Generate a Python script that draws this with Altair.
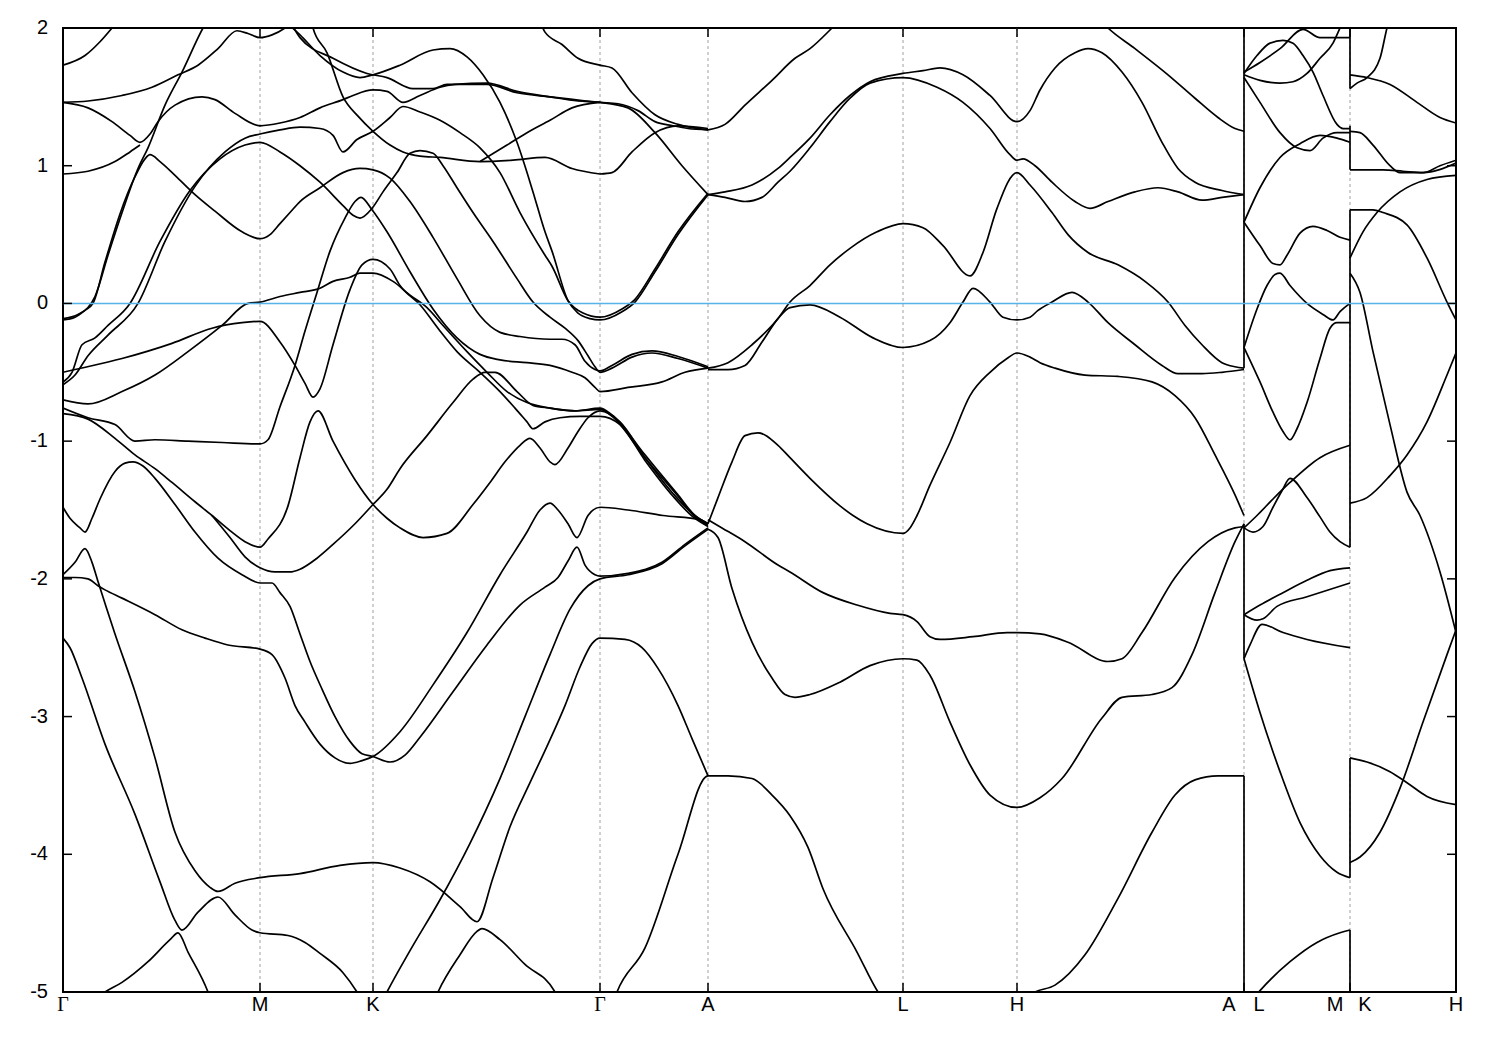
import altair as alt
import pandas as pd

W, H = 1393, 964

# path positions of the high-symmetry points
SYM_K = [0, 197, 310, 537, 645, 840, 954, 1181, 1287, 1393]
GRID_K = [197, 310, 537, 645, 840, 954, 1181, 1287]
Y_TICKS = [-5, -4, -3, -2, -1, 0, 1, 2]
Y_LABELS = ["-5", "-4", "-3", "-2", "-1", "0", "1", "2"]

CENTER_LABEL_K = [197, 310, 645, 840, 954, 1393]
CENTER_LABELS = ["M", "K", "A", "L", "H", "H"]
GAMMA_K = [0, 537]
LEFT_LABEL_K = [1181, 1287]
LEFT_LABELS = ["A", "M"]
RIGHT_LABEL_K = [1181, 1287]
RIGHT_LABELS = ["L", "K"]

# discontinuities of the path (A|L and M|K): vertical joins of the bands
JUMP_K = [1181, 1181, 1181, 1287, 1287, 1287, 1287, 1287]
JUMP_TOP = [2.05, -1.60, -3.43, 2.05, 1.29, 0.68, -3.30, -4.55]
JUMP_BOT = [-0.47, -2.58, -5.05, 1.56, 0.97, -1.77, -4.17, -5.05]

# ---- bands: (k, E in eV) ----
B01 = [(0,1.73),(22,1.80),(37,1.90),(49,2.00),(62,2.12)]
B02 = [(0,1.46),(25,1.47),(59,1.51),(89,1.57),(115,1.66),(135,1.73),(155,1.85),(174,1.98),(185,1.96),(197,1.93),(209,1.95),(222,2.00),(232,2.06)]
B03 = [(0,1.46),(25,1.42),(49,1.32),(67,1.22),(77,1.17),(87,1.23),(95,1.32),(112,1.44),(139,1.50),(152,1.48),(172,1.38),(197,1.29),(217,1.31),(237,1.35),(257,1.42),(280,1.48),(290,1.51),(310,1.55),(324,1.54),(340,1.46),(357,1.51),(377,1.57),(392,1.59),(424,1.60),(454,1.54),(487,1.50),(515,1.47),(537,1.46),(565,1.42),(592,1.24),(619,1.00),(645,0.79)]
B04 = [(0,0.94),(25,0.96),(52,1.03),(67,1.10),(77,1.15)]
B05 = [(0,-0.12),(12,-0.10),(22,-0.05),(30,0.00),(42,0.30),(57,0.65),(72,0.92),(82,1.05),(87,1.08),(97,1.03),(112,0.93),(132,0.79),(152,0.67),(179,0.52),(197,0.47),(207,0.50),(217,0.58),(227,0.66),(237,0.74),(257,0.84),(280,0.95),(297,0.98),(310,0.97),(327,0.91),(347,0.74),(370,0.48),(394,0.18),(417,-0.09),(437,-0.21),(457,-0.24),(487,-0.26),(499,-0.26),(512,-0.30),(522,-0.42),(532,-0.48),(537,-0.49),(549,-0.45),(569,-0.37),(589,-0.345),(615,-0.385),(645,-0.46)]
B06 = [(0,-0.11),(15,-0.08),(25,-0.03),(32,0.05),(45,0.35),(60,0.68),(75,0.98),(85,1.13),(102,1.44),(119,1.68),(140,2.00),(150,2.12)]
B07 = [(0,-0.57),(9,-0.50),(19,-0.30),(32,-0.25),(45,-0.16),(67,0.00),(97,0.45),(127,0.82),(157,1.05),(182,1.15),(197,1.17),(217,1.10),(237,1.00),(257,0.88),(280,0.71),(290,0.64),(297,0.62),(309,0.69),(320,0.81),(334,0.95),(347,1.09),(357,1.11),(370,1.09),(380,1.00),(394,0.84),(410,0.66),(430,0.45),(454,0.18),(470,0.01),(487,-0.10),(502,-0.18),(515,-0.27),(525,-0.38),(532,-0.46),(537,-0.50),(549,-0.47),(569,-0.39),(589,-0.36),(615,-0.40),(645,-0.47)]
B08 = [(0,-0.59),(12,-0.52),(25,-0.38),(45,-0.23),(75,0.00),(102,0.45),(132,0.85),(162,1.10),(182,1.20),(197,1.23),(217,1.26),(237,1.28),(257,1.27),(270,1.22),(280,1.10),(294,1.19),(310,1.25),(327,1.35),(340,1.43),(357,1.39),(377,1.33),(397,1.24),(417,1.13),(437,0.95),(457,0.66),(482,0.35),(489,0.27),(505,0.02),(520,-0.07),(537,-0.10),(559,-0.04),(572,0.03),(592,0.25),(615,0.52),(645,0.80)]
B09 = [(222,2.05),(237,1.95),(257,1.80),(280,1.68),(297,1.64),(310,1.66),(337,1.73),(370,1.84),(387,1.85),(404,1.79),(420,1.66),(437,1.46),(454,1.17),(470,0.81),(482,0.52),(489,0.38),(505,0.02),(515,-0.07),(527,-0.11),(537,-0.12),(559,-0.06),(572,0.01),(592,0.23),(615,0.50),(645,0.79)]
B10 = [(227,2.05),(237,1.93),(270,1.78),(304,1.67),(324,1.64),(350,1.56),(370,1.56),(384,1.59),(397,1.59),(424,1.59),(454,1.53),(487,1.50),(537,1.46),(555,1.45),(575,1.40),(592,1.32),(610,1.29),(625,1.27),(645,1.26)]
B11 = [(247,2.10),(250,2.00),(264,1.82),(280,1.50),(295,1.36),(310,1.25),(327,1.15),(340,1.10),(357,1.07),(377,1.06),(417,1.03),(450,1.04),(482,1.06),(509,0.98),(537,0.94)]
B11B = [(417,1.03),(444,1.15),(464,1.24),(487,1.33),(509,1.42),(537,1.46)]
B12 = [(477,2.05),(482,1.97),(499,1.88),(515,1.78),(537,1.73),(549,1.71),(569,1.53),(592,1.37),(615,1.30),(645,1.26)]
B13 = [(537,0.94),(549,0.95),(569,1.10),(592,1.24),(615,1.29),(645,1.27)]
B14 = [(0,-0.50),(12,-0.48),(59,-0.40),(109,-0.29),(149,-0.18),(179,-0.14),(197,-0.13),(217,-0.28),(232,-0.45),(242,-0.58),(250,-0.68),(257,-0.62),(270,-0.30),(287,0.10),(299,0.28),(310,0.32),(327,0.25),(337,0.13),(357,-0.01),(377,-0.20),(394,-0.35),(417,-0.50),(437,-0.64),(452,-0.76),(464,-0.86),(470,-0.91),(482,-0.86),(497,-0.83),(517,-0.82),(537,-0.82),(557,-0.88),(582,-1.14),(610,-1.40),(630,-1.55),(645,-1.62)]
B15 = [(0,-0.70),(25,-0.73),(59,-0.64),(92,-0.52),(125,-0.35),(159,-0.16),(185,0.00),(197,0.01),(217,0.05),(237,0.08),(257,0.11),(270,0.16),(287,0.19),(297,0.22),(310,0.22),(330,0.16),(347,0.06),(364,-0.03),(380,-0.16),(404,-0.35),(424,-0.50),(444,-0.64),(464,-0.72),(487,-0.76),(512,-0.78),(537,-0.76),(549,-0.81),(582,-1.10),(615,-1.39),(632,-1.54),(645,-1.60)]
B16 = [(0,-0.76),(25,-0.83),(52,-0.88),(72,-1.00),(92,-0.99),(125,-1.00),(159,-1.01),(197,-1.02),(205,-0.99),(217,-0.75),(232,-0.45),(242,-0.20),(254,0.08),(267,0.38),(282,0.62),(292,0.74),(298,0.77),(309,0.68),(324,0.52),(347,0.23),(370,-0.04),(394,-0.25),(417,-0.37),(437,-0.41),(464,-0.43),(487,-0.45),(509,-0.50),(522,-0.54),(532,-0.61),(537,-0.64),(565,-0.61),(599,-0.57),(622,-0.50),(645,-0.47)]
B17 = [(0,-0.80),(25,-0.84),(52,-0.98),(72,-1.10),(92,-1.20),(109,-1.30),(132,-1.44),(149,-1.54),(167,-1.65),(182,-1.73),(197,-1.77),(205,-1.71),(225,-1.47),(237,-1.12),(247,-0.86),(255,-0.78),(270,-1.00),(292,-1.28),(310,-1.46),(324,-1.56),(337,-1.63),(360,-1.70),(384,-1.67),(410,-1.46),(427,-1.30),(442,-1.15),(457,-1.03),(467,-0.98),(477,-1.05),(487,-1.15),(492,-1.17),(505,-1.05),(515,-0.93),(525,-0.83),(537,-0.78),(557,-0.86),(582,-1.12),(610,-1.38),(630,-1.53),(645,-1.60)]
B18 = [(0,-1.48),(7,-1.56),(17,-1.63),(22,-1.66),(29,-1.56),(37,-1.42),(52,-1.22),(62,-1.16),(70,-1.15),(80,-1.18),(92,-1.27),(112,-1.46),(132,-1.66),(155,-1.85),(179,-1.97),(197,-2.03),(209,-2.03),(217,-2.10),(227,-2.20),(237,-2.40),(247,-2.60),(259,-2.80),(272,-3.00),(287,-3.18),(299,-3.27),(310,-3.29),(327,-3.33),(342,-3.28),(357,-3.15),(390,-2.82),(424,-2.48),(457,-2.19),(482,-2.06),(495,-1.99),(505,-1.87),(514,-1.77),(522,-1.90),(532,-1.97),(537,-1.98),(565,-1.96),(599,-1.88),(622,-1.75),(645,-1.63)]
B19 = [(149,-1.54),(167,-1.70),(182,-1.84),(197,-1.92),(212,-1.95),(227,-1.95),(237,-1.93),(254,-1.85),(270,-1.75),(292,-1.60),(310,-1.46),(324,-1.35),(337,-1.20),(364,-0.96),(390,-0.72),(410,-0.55),(422,-0.50),(432,-0.50),(454,-0.64),(470,-0.74),(487,-0.76),(512,-0.78),(537,-0.77),(549,-0.82),(582,-1.12),(615,-1.40),(632,-1.55),(645,-1.61)]
B20 = [(0,-1.99),(12,-1.99),(25,-2.00),(35,-2.05),(42,-2.08),(59,-2.14),(92,-2.26),(119,-2.37),(142,-2.43),(165,-2.48),(197,-2.51),(209,-2.55),(222,-2.72),(232,-2.92),(242,-3.04),(257,-3.20),(272,-3.30),(287,-3.34),(299,-3.32),(310,-3.29),(337,-3.11),(370,-2.77),(404,-2.39),(437,-1.97),(464,-1.66),(477,-1.50),(487,-1.45),(495,-1.50),(505,-1.60),(514,-1.70),(525,-1.54),(537,-1.48),(565,-1.50),(600,-1.54),(637,-1.57),(645,-1.60)]
B21 = [(0,-1.97),(12,-1.88),(22,-1.78),(29,-1.88),(35,-2.02),(52,-2.40),(72,-2.82),(92,-3.30),(112,-3.84),(132,-4.12),(147,-4.24),(155,-4.27),(172,-4.21),(197,-4.17),(237,-4.14),(277,-4.08),(310,-4.06),(337,-4.10),(367,-4.20),(397,-4.38),(414,-4.49),(430,-4.17),(447,-3.80),(467,-3.48),(485,-3.20),(502,-2.92),(517,-2.64),(529,-2.47),(537,-2.43),(562,-2.44),(579,-2.50),(595,-2.65),(615,-2.92),(629,-3.16),(645,-3.43)]
B22 = [(0,-2.43),(7,-2.50),(19,-2.72),(42,-3.20),(72,-3.71),(97,-4.20),(112,-4.48),(119,-4.55),(135,-4.42),(155,-4.31),(172,-4.44),(189,-4.55),(197,-4.57),(225,-4.59),(242,-4.64),(257,-4.72),(280,-4.86),(294,-5.00),(302,-5.10)]
B23 = [(22,-5.10),(42,-5.00),(59,-4.93),(85,-4.78),(107,-4.62),(115,-4.57),(125,-4.71),(145,-5.00),(150,-5.10)]
B24 = [(317,-5.10),(324,-5.00),(347,-4.70),(377,-4.33),(407,-3.92),(437,-3.45),(462,-3.00),(487,-2.55),(507,-2.22),(525,-2.05),(537,-2.00),(565,-1.97),(599,-1.89),(622,-1.76),(645,-1.64)]
B25 = [(369,-5.10),(375,-5.00),(397,-4.73),(414,-4.56),(419,-4.54),(437,-4.62),(462,-4.80),(492,-5.00),(497,-5.08)]
B26 = [(549,-5.10),(554,-5.00),(582,-4.68),(615,-4.00),(645,-3.43),(665,-3.43),(689,-3.45),(709,-3.57),(727,-3.72),(745,-3.95),(760,-4.25),(794,-4.71),(815,-5.00),(825,-5.10)]
B27 = [(645,1.26),(662,1.30),(682,1.44),(709,1.62),(732,1.78),(747,1.85),(769,2.00),(780,2.08)]
B28 = [(645,0.79),(662,0.81),(689,0.86),(715,0.98),(727,1.06),(747,1.20),(767,1.37),(787,1.51),(807,1.61),(840,1.67),(860,1.69),(877,1.71),(900,1.66),(927,1.51),(954,1.32),(967,1.40),(977,1.55),(992,1.71),(1012,1.82),(1025,1.85),(1039,1.82),(1059,1.68),(1079,1.46),(1099,1.17),(1115,0.98),(1132,0.88),(1159,0.82),(1181,0.79)]
B29 = [(645,0.79),(662,0.77),(682,0.74),(699,0.77),(715,0.88),(727,0.96),(747,1.13),(767,1.32),(787,1.49),(807,1.60),(840,1.64),(874,1.57),(900,1.46),(927,1.27),(947,1.08),(954,1.04),(960,1.05),(972,1.00),(989,0.88),(1012,0.74),(1027,0.69),(1045,0.74),(1072,0.81),(1095,0.84),(1115,0.81),(1139,0.75),(1159,0.77),(1181,0.79)]
B30 = [(645,-0.47),(665,-0.43),(689,-0.30),(715,-0.11),(727,0.01),(747,0.13),(767,0.28),(787,0.40),(814,0.52),(840,0.58),(860,0.55),(880,0.42),(907,0.20),(920,0.37),(934,0.69),(954,0.95),(967,0.86),(989,0.66),(1005,0.50),(1025,0.37),(1055,0.28),(1082,0.16),(1105,0.01),(1122,-0.16),(1139,-0.30),(1159,-0.43),(1172,-0.46),(1181,-0.47)]
B31 = [(645,-0.48),(665,-0.48),(682,-0.45),(699,-0.28),(715,-0.11),(727,-0.03),(747,-0.01),(777,-0.10),(810,-0.25),(840,-0.32),(867,-0.27),(887,-0.14),(900,0.01),(910,0.11),(927,0.01),(940,-0.10),(954,-0.12),(967,-0.10),(975,-0.05),(989,0.01),(1009,0.08),(1025,0.01),(1045,-0.14),(1072,-0.30),(1099,-0.45),(1115,-0.51),(1139,-0.51),(1159,-0.50),(1181,-0.48)]
B32 = [(645,-1.60),(655,-1.41),(669,-1.15),(682,-0.96),(695,-0.94),(715,-1.03),(727,-1.12),(747,-1.27),(777,-1.47),(790,-1.54),(804,-1.60),(840,-1.67),(847,-1.63),(854,-1.54),(867,-1.32),(887,-1.01),(907,-0.67),(927,-0.50),(944,-0.40),(954,-0.36),(967,-0.39),(977,-0.43),(992,-0.47),(1022,-0.52),(1055,-0.53),(1089,-0.57),(1112,-0.67),(1132,-0.83),(1152,-1.10),(1172,-1.39),(1181,-1.54)]
B33 = [(645,-1.57),(659,-1.63),(682,-1.73),(715,-1.90),(727,-1.95),(760,-2.10),(794,-2.19),(827,-2.25),(840,-2.26),(854,-2.31),(867,-2.42),(877,-2.44),(910,-2.42),(944,-2.39),(954,-2.39),(977,-2.40),(1005,-2.46),(1045,-2.60),(1059,-2.58),(1079,-2.39),(1112,-1.99),(1145,-1.73),(1172,-1.63),(1181,-1.62)]
B34 = [(645,-1.64),(655,-1.70),(669,-2.07),(689,-2.46),(709,-2.72),(722,-2.84),(732,-2.86),(747,-2.84),(777,-2.75),(807,-2.63),(840,-2.58),(854,-2.59),(867,-2.70),(887,-3.04),(907,-3.35),(927,-3.57),(954,-3.66),(977,-3.59),(999,-3.45),(1039,-3.01),(1059,-2.86),(1089,-2.84),(1109,-2.79),(1129,-2.55),(1152,-2.10),(1172,-1.73),(1181,-1.60)]
B35 = [(955,-5.08),(972,-5.00),(992,-4.95),(1022,-4.73),(1055,-4.32),(1089,-3.84),(1112,-3.57),(1132,-3.46),(1155,-3.43),(1181,-3.43)]
B36 = [(1032,2.10),(1045,2.00),(1072,1.85),(1105,1.66),(1132,1.49),(1155,1.35),(1172,1.27),(1181,1.25)]
B40 = [(1181,1.67),(1194,1.80),(1207,1.89),(1220,1.91),(1230,1.89),(1240,1.80),(1250,1.68),(1260,1.51),(1274,1.30),(1280,1.27),(1287,1.27)]
B41 = [(1181,1.68),(1197,1.75),(1217,1.85),(1240,1.99),(1257,1.93),(1274,1.93),(1287,1.93)]
B42 = [(1181,1.66),(1197,1.62),(1217,1.60),(1230,1.61),(1244,1.67),(1257,1.78),(1270,1.89),(1277,2.00),(1283,2.10)]
B43 = [(1181,1.64),(1197,1.46),(1217,1.24),(1234,1.13),(1247,1.11),(1260,1.20),(1274,1.24),(1287,1.24)]
B44 = [(1181,0.59),(1197,0.84),(1217,1.06),(1237,1.16),(1257,1.22),(1274,1.20),(1287,1.17)]
B45 = [(1181,0.59),(1197,0.42),(1210,0.29),(1217,0.28),(1224,0.35),(1237,0.51),(1250,0.56),(1264,0.53),(1277,0.48),(1287,0.46)]
B46 = [(1181,-0.32),(1194,-0.04),(1204,0.13),(1212,0.21),(1217,0.22),(1227,0.13),(1244,0.00),(1260,-0.08),(1270,-0.12),(1277,-0.06),(1287,0.00)]
B47 = [(1181,-0.32),(1197,-0.57),(1210,-0.79),(1220,-0.93),(1227,-0.99),(1234,-0.91),(1244,-0.72),(1257,-0.40),(1267,-0.18),(1274,-0.14),(1287,-0.14)]
B48 = [(1181,-1.63),(1190,-1.66),(1200,-1.62),(1210,-1.48),(1219,-1.36),(1227,-1.27),(1244,-1.41),(1257,-1.55),(1267,-1.66),(1277,-1.73),(1287,-1.77)]
B49 = [(1181,-1.63),(1194,-1.54),(1210,-1.42),(1227,-1.30),(1257,-1.12),(1287,-1.03)]
B50 = [(1181,-2.26),(1194,-2.30),(1200,-2.29),(1214,-2.20),(1244,-2.13),(1287,-2.03)]
B51 = [(1181,-2.26),(1197,-2.19),(1220,-2.10),(1244,-2.01),(1267,-1.94),(1287,-1.92)]
B52 = [(1181,-2.58),(1187,-2.48),(1199,-2.33),(1220,-2.39),(1244,-2.44),(1287,-2.50)]
B53 = [(1181,-2.58),(1197,-2.97),(1217,-3.40),(1237,-3.77),(1257,-4.01),(1274,-4.13),(1287,-4.17)]
B54 = [(1190,-5.05),(1197,-4.99),(1227,-4.78),(1254,-4.64),(1277,-4.57),(1287,-4.55)]
B60 = [(1287,1.56),(1294,1.60),(1304,1.64),(1317,1.78),(1324,2.00),(1328,2.10)]
B61 = [(1287,1.66),(1304,1.64),(1327,1.59),(1354,1.46),(1377,1.35),(1393,1.31)]
B62 = [(1287,1.25),(1297,1.24),(1310,1.15),(1327,1.00),(1337,0.95),(1360,0.95),(1377,1.00),(1393,1.04)]
B63 = [(1287,0.97),(1320,0.97),(1340,0.96),(1360,0.95),(1393,1.02)]
B64 = [(1287,0.68),(1310,0.68),(1320,0.66),(1344,0.57),(1364,0.33),(1384,0.01),(1393,-0.12)]
B65 = [(1287,0.33),(1300,0.52),(1314,0.66),(1337,0.81),(1364,0.90),(1393,0.93)]
B66 = [(1287,0.22),(1297,0.08),(1310,-0.35),(1327,-0.88),(1344,-1.37),(1357,-1.54),(1377,-1.95),(1393,-2.39)]
B67 = [(1287,-1.45),(1304,-1.41),(1327,-1.25),(1344,-1.10),(1364,-0.86),(1384,-0.52),(1393,-0.36)]
B68 = [(1287,-3.30),(1304,-3.33),(1327,-3.40),(1344,-3.48),(1364,-3.58),(1393,-3.64)]
B69 = [(1287,-4.06),(1297,-4.02),(1317,-3.84),(1337,-3.52),(1360,-3.04),(1384,-2.55),(1393,-2.37)]

BANDS = [B01, B02, B03, B04, B05, B06, B07, B08, B09, B10, B11, B11B, B12, B13, B14, B15,
         B16, B17, B18, B19, B20, B21, B22, B23, B24, B25, B26, B27, B28, B29, B30,
         B31, B32, B33, B34, B35, B36, B40, B41, B42, B43, B44, B45, B46, B47, B48,
         B49, B50, B51, B52, B53, B54, B60, B61, B62, B63, B64, B65, B66, B67, B68, B69]

rows = []
for bi, band in enumerate(BANDS):
    for j, (k, e) in enumerate(band):
        rows.append({"band": f"b{bi:02d}", "k": k, "E": e, "i": j})
df = pd.DataFrame(rows)

xs = alt.Scale(domain=[0, 1393], nice=False, zero=False)
ys = alt.Scale(domain=[-5, 2], nice=False, zero=False)
FONT = "Liberation Sans"
FS = 20
LW = 1.7

grid = alt.Chart(pd.DataFrame({"k": GRID_K})).mark_rule(
    color="#a0a0a0", strokeDash=[3, 3], strokeWidth=1
).encode(x=alt.X("k:Q", scale=xs, axis=None))

lines = alt.Chart(df).mark_line(
    color="black", strokeWidth=LW, interpolate="monotone", clip=True
).encode(
    x=alt.X("k:Q", scale=xs, axis=None),
    y=alt.Y("E:Q", scale=ys, axis=None),
    detail="band:N",
    order="i:Q",
)

jumps = alt.Chart(pd.DataFrame({"k": JUMP_K, "top": JUMP_TOP, "bot": JUMP_BOT})).mark_rule(
    color="black", strokeWidth=LW, clip=True
).encode(
    x=alt.X("k:Q", scale=xs, axis=None),
    y=alt.Y("top:Q", scale=ys, axis=None),
    y2="bot:Q",
)

fermi = alt.Chart(pd.DataFrame({"E": [0]})).mark_rule(color="#56B4E9", strokeWidth=1.5).encode(
    y=alt.Y("E:Q", scale=ys, axis=None)
)

ytick_df = pd.DataFrame({"E": Y_TICKS, "t": Y_LABELS})
ytick_l = alt.Chart(ytick_df).mark_rule(color="black", strokeWidth=1.5).encode(
    y=alt.Y("E:Q", scale=ys, axis=None), x=alt.value(0), x2=alt.value(9))
ytick_r = alt.Chart(ytick_df).mark_rule(color="black", strokeWidth=1.5).encode(
    y=alt.Y("E:Q", scale=ys, axis=None), x=alt.value(W - 9), x2=alt.value(W))
ylab = alt.Chart(ytick_df).mark_text(
    font=FONT, fontSize=FS, color="black", align="right", baseline="middle"
).encode(y=alt.Y("E:Q", scale=ys, axis=None), x=alt.value(-15), text="t:N")

xtick_df = pd.DataFrame({"k": SYM_K})
xtick_b = alt.Chart(xtick_df).mark_rule(color="black", strokeWidth=1.5).encode(
    x=alt.X("k:Q", scale=xs, axis=None), y=alt.value(H), y2=alt.value(H - 9))
xtick_t = alt.Chart(xtick_df).mark_rule(color="black", strokeWidth=1.5).encode(
    x=alt.X("k:Q", scale=xs, axis=None), y=alt.value(0), y2=alt.value(9))

def label_layer(ks, texts, font, dx=0):
    return alt.Chart(pd.DataFrame({"k": ks, "t": texts})).mark_text(
        font=font, fontSize=FS, color="black", baseline="top", align="center", dx=dx
    ).encode(x=alt.X("k:Q", scale=xs, axis=None), y=alt.value(H + 3), text="t:N")

lab_c = label_layer(CENTER_LABEL_K, CENTER_LABELS, FONT)
lab_g = label_layer(GAMMA_K, ["Γ", "Γ"], "Liberation Serif")
lab_l = label_layer(LEFT_LABEL_K, LEFT_LABELS, FONT, dx=-15)
lab_r = label_layer(RIGHT_LABEL_K, RIGHT_LABELS, FONT, dx=15)

chart = alt.layer(
    grid, lines, jumps, fermi, ytick_l, ytick_r, ylab, xtick_b, xtick_t, lab_c, lab_g, lab_l, lab_r
).properties(
    width=W, height=H,
    padding={"left": 55, "top": 20, "right": 36, "bottom": 50},
    autosize=alt.AutoSizeParams(type="none"),
    background="white",
).configure_view(stroke="black", strokeWidth=2)

chart.save("out.html", embed_options={"renderer": "svg", "actions": False})
